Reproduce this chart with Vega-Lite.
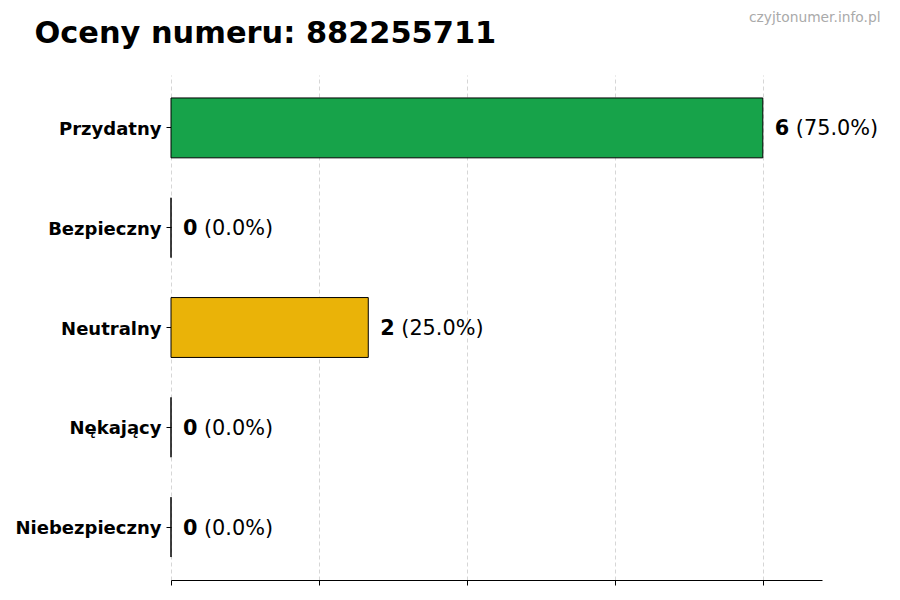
{
  "$schema": "https://vega.github.io/schema/vega-lite/v6.json",
  "autosize": "none",
  "width": 651,
  "height": 505,
  "padding": {"left": 171, "top": 75, "right": 78, "bottom": 20},
  "background": "white",
  "data": {
    "values": [
      {"rating": "Przydatny", "count": 6},
      {"rating": "Bezpieczny", "count": 0},
      {"rating": "Neutralny", "count": 2},
      {"rating": "Nękający", "count": 0},
      {"rating": "Niebezpieczny", "count": 0}
    ]
  },
  "transform": [
    {"joinaggregate": [{"op": "sum", "field": "count", "as": "total"}]},
    {"calculate": "'(' + format(100 * datum.count / datum.total, '.1f') + '%)'", "as": "pct_label"}
  ],
  "encoding": {
    "y": {
      "field": "rating",
      "type": "nominal",
      "sort": null,
      "scale": {"paddingInner": 0.4, "paddingOuter": 0.23},
      "axis": {
        "title": "Oceny numeru: 882255711",
        "titleAngle": 0,
        "titleAlign": "left",
        "titleBaseline": "alphabetic",
        "titleX": -137,
        "titleY": -33,
        "titleColor": "black",
        "titleFont": "DejaVu Sans",
        "titleFontSize": 30.4,
        "titleFontWeight": "bold",
        "domain": false,
        "grid": false,
        "ticks": true,
        "tickColor": "black",
        "tickSize": 5,
        "labelPadding": 5,
        "labelOffset": 2,
        "labelFont": "DejaVu Sans",
        "labelFontSize": 18,
        "labelFontWeight": "bold",
        "labelColor": "black"
      }
    }
  },
  "layer": [
    {
      "mark": {"type": "bar", "stroke": "black", "strokeWidth": 1, "opacity": 1},
      "encoding": {
        "x": {
          "field": "count",
          "type": "quantitative",
          "scale": {"domain": [0, 6.6], "nice": false},
          "axis": {
            "title": "czyjtonumer.info.pl",
            "titleAngle": 0,
            "titleAlign": "right",
            "titleBaseline": "middle",
            "titleX": 709,
            "titleY": -563,
            "titleColor": "#aaaaaa",
            "titleFont": "DejaVu Sans",
            "titleFontSize": 13.8,
            "titleFontWeight": "normal",
            "values": [0, 1.5, 3, 4.5, 6],
            "labels": false,
            "grid": true,
            "gridColor": "#cccccc",
            "gridDash": [4, 3],
            "gridWidth": 0.8,
            "domain": true,
            "domainColor": "black",
            "domainWidth": 1,
            "ticks": true,
            "tickColor": "black",
            "tickSize": 5
          }
        },
        "color": {
          "field": "rating",
          "type": "nominal",
          "legend": null,
          "scale": {
            "domain": ["Przydatny", "Bezpieczny", "Neutralny", "Nękający", "Niebezpieczny"],
            "range": ["#17a34a", "#4ade80", "#eab308", "#f97316", "#dc2626"]
          }
        }
      }
    },
    {
      "mark": {"type": "text", "align": "left", "baseline": "middle", "dx": 12, "dy": 1.5, "font": "DejaVu Sans", "fontSize": 20.8, "fontWeight": "bold", "color": "black"},
      "encoding": {
        "x": {"field": "count", "type": "quantitative"},
        "text": {"field": "count", "type": "quantitative"}
      }
    },
    {
      "mark": {"type": "text", "align": "left", "baseline": "middle", "dx": 33, "dy": 1.5, "font": "DejaVu Sans", "fontSize": 20.8, "color": "black"},
      "encoding": {
        "x": {"field": "count", "type": "quantitative"},
        "text": {"field": "pct_label", "type": "nominal"}
      }
    }
  ],
  "config": {
    "view": {"stroke": null}
  }
}
